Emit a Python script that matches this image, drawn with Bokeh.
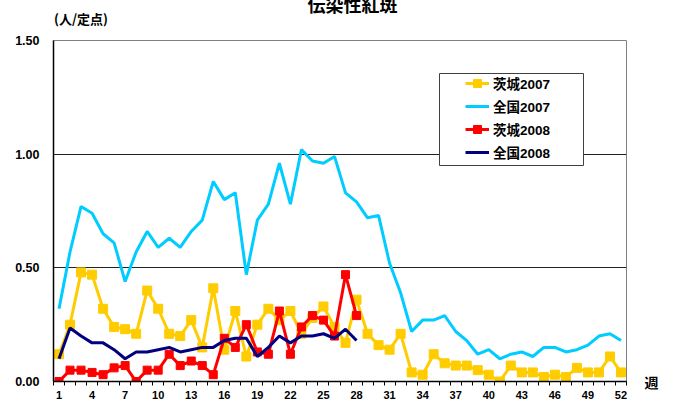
from bokeh.plotting import figure
from bokeh.models import (FixedTicker, PrintfTickFormatter, Legend, LegendItem,
                          Range1d, LinearAxis, BoxAnnotation, Title)
from bokeh.embed import file_html
from bokeh.resources import INLINE

weeks = list(range(1, 53))
weeks_2008 = list(range(1, 29))
tick_weeks = list(range(1, 53, 3))
tick_labels = {w: str(w) for w in tick_weeks}
y_ticks = [0.0, 0.5, 1.0, 1.5]

ibaraki_2007 = [0.12, 0.25, 0.48, 0.47, 0.32, 0.24, 0.23, 0.21, 0.40, 0.32,
                0.21, 0.20, 0.27, 0.15, 0.41, 0.14, 0.31, 0.11, 0.25, 0.32,
                0.27, 0.31, 0.21, 0.28, 0.33, 0.24, 0.17, 0.36, 0.21, 0.16,
                0.14, 0.21, 0.04, 0.03, 0.12, 0.08, 0.07, 0.07, 0.05, 0.03,
                0.00, 0.07, 0.04, 0.04, 0.02, 0.03, 0.02, 0.06, 0.04, 0.04,
                0.11, 0.04]
zenkoku_2007 = [0.32, 0.57, 0.77, 0.74, 0.65, 0.61, 0.44, 0.57, 0.66, 0.59,
                0.63, 0.59, 0.66, 0.71, 0.88, 0.80, 0.83, 0.47, 0.71, 0.78,
                0.96, 0.78, 1.02, 0.97, 0.96, 0.99, 0.83, 0.79, 0.72, 0.73,
                0.52, 0.39, 0.22, 0.27, 0.27, 0.29, 0.22, 0.18, 0.12, 0.14,
                0.10, 0.12, 0.13, 0.11, 0.15, 0.15, 0.13, 0.14, 0.16, 0.20,
                0.21, 0.18]
ibaraki_2008 = [0.00, 0.05, 0.05, 0.04, 0.03, 0.06, 0.07, 0.00, 0.05, 0.05,
                0.12, 0.07, 0.09, 0.07, 0.03, 0.19, 0.15, 0.25, 0.13, 0.12,
                0.31, 0.12, 0.24, 0.29, 0.27, 0.20, 0.47, 0.29]
zenkoku_2008 = [0.10, 0.235, 0.20, 0.17, 0.17, 0.14, 0.10, 0.13, 0.13, 0.14,
                0.15, 0.13, 0.14, 0.15, 0.15, 0.18, 0.19, 0.19, 0.11, 0.15,
                0.20, 0.17, 0.20, 0.20, 0.21, 0.19, 0.23, 0.18]

names = ["茨城2007", "全国2007", "茨城2008", "全国2008"]
colors = ["#FFCC00", "#00CCFF", "#FF0000", "#000080"]
title_text = "伝染性紅斑"
unit_text = "(人/定点)"
x_title = "週"

FONT_NUM = "'Liberation Sans', 'Noto Sans CJK JP', sans-serif"
FONT_JP = "'Noto Sans CJK JP', sans-serif"

X0, X1, Y0, Y1 = 0.5, 52.5, 0.0, 1.5

p = figure(frame_width=573, frame_height=341,
           min_border_left=53, min_border_right=49,
           min_border_top=40, min_border_bottom=27,
           x_range=Range1d(X0, X1), y_range=Range1d(Y0, Y1),
           output_backend="svg", toolbar_location=None,
           background_fill_color="white", border_fill_color="white")
p.outline_line_color = "#808080"
p.outline_line_width = 1

# grid
p.xgrid.visible = False
p.ygrid.ticker = FixedTicker(ticks=[0.5, 1.0])
p.ygrid.grid_line_color = "#222222"
p.ygrid.grid_line_width = 1

# x axis
p.xaxis.ticker = FixedTicker(ticks=tick_weeks,
                             minor_ticks=[w + 0.5 for w in range(0, 53)])
p.xaxis.major_label_overrides = tick_labels
p.xaxis.major_tick_out = 0
p.xaxis.major_tick_in = 0
p.xaxis.minor_tick_out = 4
p.xaxis.minor_tick_in = 0
p.xaxis.minor_tick_line_color = "black"
p.xaxis.axis_line_color = "black"
p.xaxis.axis_line_width = 1.5
p.xaxis.major_label_standoff = 5
p.xaxis.major_label_text_font = FONT_NUM
p.xaxis.major_label_text_font_style = "bold"
p.xaxis.major_label_text_font_size = "11px"
p.xaxis.major_label_text_color = "black"
p.xaxis.axis_label_standoff = 0

# y axis
p.yaxis.ticker = FixedTicker(ticks=y_ticks)
p.yaxis.formatter = PrintfTickFormatter(format="%.2f")
p.yaxis.major_tick_out = 0
p.yaxis.major_tick_in = 0
p.yaxis.minor_tick_out = 0
p.yaxis.minor_tick_in = 0
p.yaxis.axis_line_color = "black"
p.yaxis.axis_line_width = 1.5
p.yaxis.major_label_standoff = 14
p.yaxis.major_label_text_font = FONT_NUM
p.yaxis.major_label_text_font_style = "bold"
p.yaxis.major_label_text_font_size = "12.5px"
p.yaxis.major_label_text_color = "black"


def label_axis(ticks, overrides, standoff, size, **kw):
    return LinearAxis(ticker=FixedTicker(ticks=ticks),
                      major_label_overrides=overrides,
                      axis_line_color=None, major_tick_line_color=None,
                      minor_tick_line_color=None,
                      major_tick_out=0, major_tick_in=0,
                      minor_tick_out=0, minor_tick_in=0,
                      axis_label_standoff=0,
                      major_label_standoff=standoff,
                      major_label_text_font=FONT_JP,
                      major_label_text_font_style="bold",
                      major_label_text_font_size=size,
                      major_label_text_color="black", **kw)


# unit text above the plot (as a label-only axis)
unit_pos = 3.0
p.add_layout(label_axis([unit_pos], {unit_pos: unit_text}, 13, "13px"), "above")

# chart title
p.add_layout(Title(text=title_text, align="left", offset=254,
                   standoff=-23, text_font=FONT_JP, text_font_style="bold",
                   text_font_size="18px", text_color="black"), "above")

# week label at the right end of the x axis
p.extra_y_ranges = {"wk": Range1d(Y0, Y1)}
p.add_layout(label_axis([Y0], {Y0: x_title}, 18, "14px", y_range_name="wk"),
             "right")

# series
l1 = p.line(weeks, ibaraki_2007, line_color=colors[0], line_width=3)
m1 = p.scatter(weeks, ibaraki_2007, marker="square", size=9,
               fill_color=colors[0], line_color=colors[0])
l2 = p.line(weeks, zenkoku_2007, line_color=colors[1], line_width=3)
l3 = p.line(weeks_2008, ibaraki_2008, line_color=colors[2], line_width=3)
m3 = p.scatter(weeks_2008, ibaraki_2008, marker="square", size=8,
               fill_color=colors[2], line_color=colors[2])
l4 = p.line(weeks_2008, zenkoku_2008, line_color=colors[3], line_width=3)

# legend frame
box = BoxAnnotation(left=439, right=583, top=73, bottom=165,
                    left_units="canvas", right_units="canvas",
                    top_units="canvas", bottom_units="canvas",
                    fill_color="white", fill_alpha=1.0,
                    line_color="#404040", line_width=1, line_alpha=1.0)
p.add_layout(box)

legend = Legend(items=[
    LegendItem(label=names[0], renderers=[l1, m1]),
    LegendItem(label=names[1], renderers=[l2]),
    LegendItem(label=names[2], renderers=[l3, m3]),
    LegendItem(label=names[3], renderers=[l4]),
], location=(412, 219))
legend.padding = 0
legend.margin = 0
legend.spacing = 3
legend.label_height = 20
legend.glyph_height = 20
legend.glyph_width = 24
legend.label_standoff = 4
legend.label_text_font = FONT_NUM
legend.label_text_font_style = "bold"
legend.label_text_font_size = "13.5px"
legend.label_text_color = "black"
legend.background_fill_alpha = 0
legend.border_line_alpha = 0
p.add_layout(legend)

open("out.html", "w").write(file_html(p, INLINE))
